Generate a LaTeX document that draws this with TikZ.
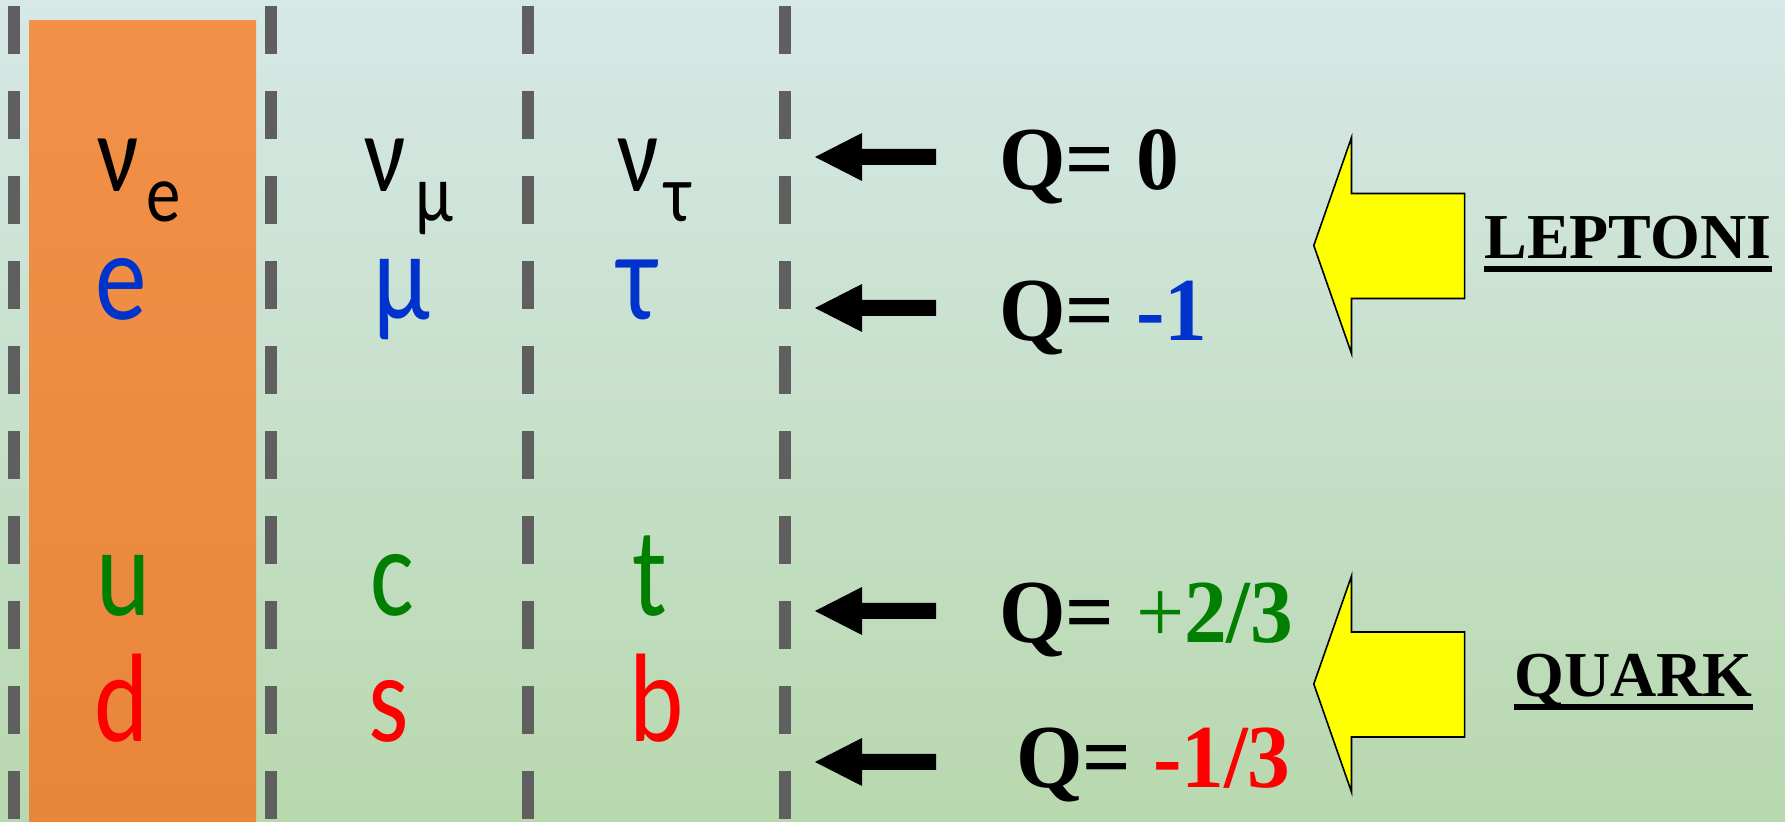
\documentclass[tikz,border=0pt]{standalone}
\usepackage{fontspec}
\setmainfont{Liberation Serif}
\newfontfamily\carl[FakeBold=-0.6]{Carlito}
\definecolor{bgtop}{HTML}{D6E8E7}
\definecolor{bgbot}{HTML}{B8D8AE}
\definecolor{ortop}{HTML}{F29048}
\definecolor{orbot}{HTML}{E8873A}
\definecolor{dashgray}{HTML}{5F5F5F}
\definecolor{lblue}{HTML}{0033CC}
\definecolor{qgreen}{HTML}{007F00}
\definecolor{qred}{HTML}{FF0000}
\definecolor{ayellow}{HTML}{FFFF00}
\newcommand{\nar}[1]{\scalebox{0.82}[1]{#1}}
\newcommand{\nnu}[1]{\scalebox{0.84}[1]{#1}}
\newcommand{\nq}[1]{\scalebox{0.95}[1]{#1}}
\newcommand{\blkarrow}[1]{\fill[black] (815,#1) -- (862,#1-24) -- (862,#1-8) -- (936,#1-8) -- (936,#1+8) -- (862,#1+8) -- (862,#1+24) -- cycle;}
\newcommand{\yelarrow}[1]{\filldraw[bigarrow] (1313.8,#1) -- (1351.5,#1-108) -- (1351.5,#1-52) -- (1464.6,#1-52) -- (1464.6,#1+53) -- (1351.5,#1+53) -- (1351.5,#1+108) -- cycle;}
\begin{document}
\begin{tikzpicture}[x=0.5pt,y=-0.5pt,
  particle/.style={inner sep=0pt, anchor=base, font=\carl\fontsize{63}{63}\selectfont},
  nu/.style={inner sep=0pt, anchor=base, font=\carl\fontsize{55}{55}\selectfont},
  subs/.style={inner sep=0pt, anchor=base, font=\carl\fontsize{41}{41}\selectfont},
  charge/.style={inner sep=0pt, anchor=base west, font=\bfseries\fontsize{45}{45}\selectfont},
  grouplabel/.style={inner sep=0pt, anchor=base west, font=\bfseries\fontsize{32}{32}\selectfont},
  uline/.style={line width=3pt},
  sep/.style={draw=dashgray, line width=5.75pt, dash pattern=on 24pt off 18.5pt},
  bigarrow/.style={fill=ayellow, draw=black, line width=0.8pt, line join=miter}
]
\useasboundingbox (0,0) rectangle (1785,822);
\fill[top color=bgtop, bottom color=bgbot] (0,0) rectangle (1785,822);
\fill[top color=ortop, bottom color=orbot] (29,21) rectangle (256,822);
\foreach \x in {13.8,271,528,785} \draw[sep] (\x,6.5) -- (\x,822);
% neutrinos
\node[nu] (nue) at (118,192) {\nnu{ν}};
\node[subs] (nuesub) at (164,222) {\nnu{e}};
\node[nu] (num) at (385,192) {\nnu{ν}};
\node[subs] (numsub) at (434.5,222) {\nnu{μ}};
\node[nu] (nut) at (638.5,192) {\nnu{ν}};
\node[subs] (nutsub) at (678,222) {\nnu{τ}};
% charged leptons
\node[particle, text=lblue] (e) at (121.5,320) {\nar{e}};
\node[particle, text=lblue] (mu) at (401.5,320) {\nar{μ}};
\node[particle, text=lblue] (tau) at (637,320) {\nar{τ}};
% quarks
\node[particle, text=qgreen] (u) at (123.5,616) {\nar{u}};
\node[particle, text=qgreen] (c) at (392,616) {\nar{c}};
\node[particle, text=qgreen] (t) at (649.5,616) {\nar{t}};
\node[particle, text=qred] (d) at (122,742) {\nar{d}};
\node[particle, text=qred] (s) at (389,742) {\nar{s}};
\node[particle, text=qred] (b) at (657,742) {\nar{b}};
% black arrows
\blkarrow{157}
\blkarrow{308}
\blkarrow{611}
\blkarrow{762}
% charges
\node[charge] (q1) at (999,190) {\nq{Q= 0}};
\node[charge] (q2) at (999,341) {\nq{Q= \textcolor{lblue}{-1}}};
\node[charge] (q3) at (999,643) {\nq{Q= \textcolor{qgreen}{{\mdseries+}2/3}}};
\node[charge] (q4) at (1016,788) {\nq{Q= \textcolor{qred}{-1/3}}};
% yellow arrows
\yelarrow{245.5}
\yelarrow{684}
% group labels
\node[grouplabel] (lep) at (1484,258.5) {LEPTONI};
\draw[uline] ([yshift=-5.1pt]lep.base west) -- ([yshift=-5.1pt]lep.base east);
\node[grouplabel] (qua) at (1514,696.7) {QUARK};
\draw[uline] ([yshift=-5pt]qua.base west) -- ([yshift=-5pt]qua.base east);
\end{tikzpicture}
\end{document}
